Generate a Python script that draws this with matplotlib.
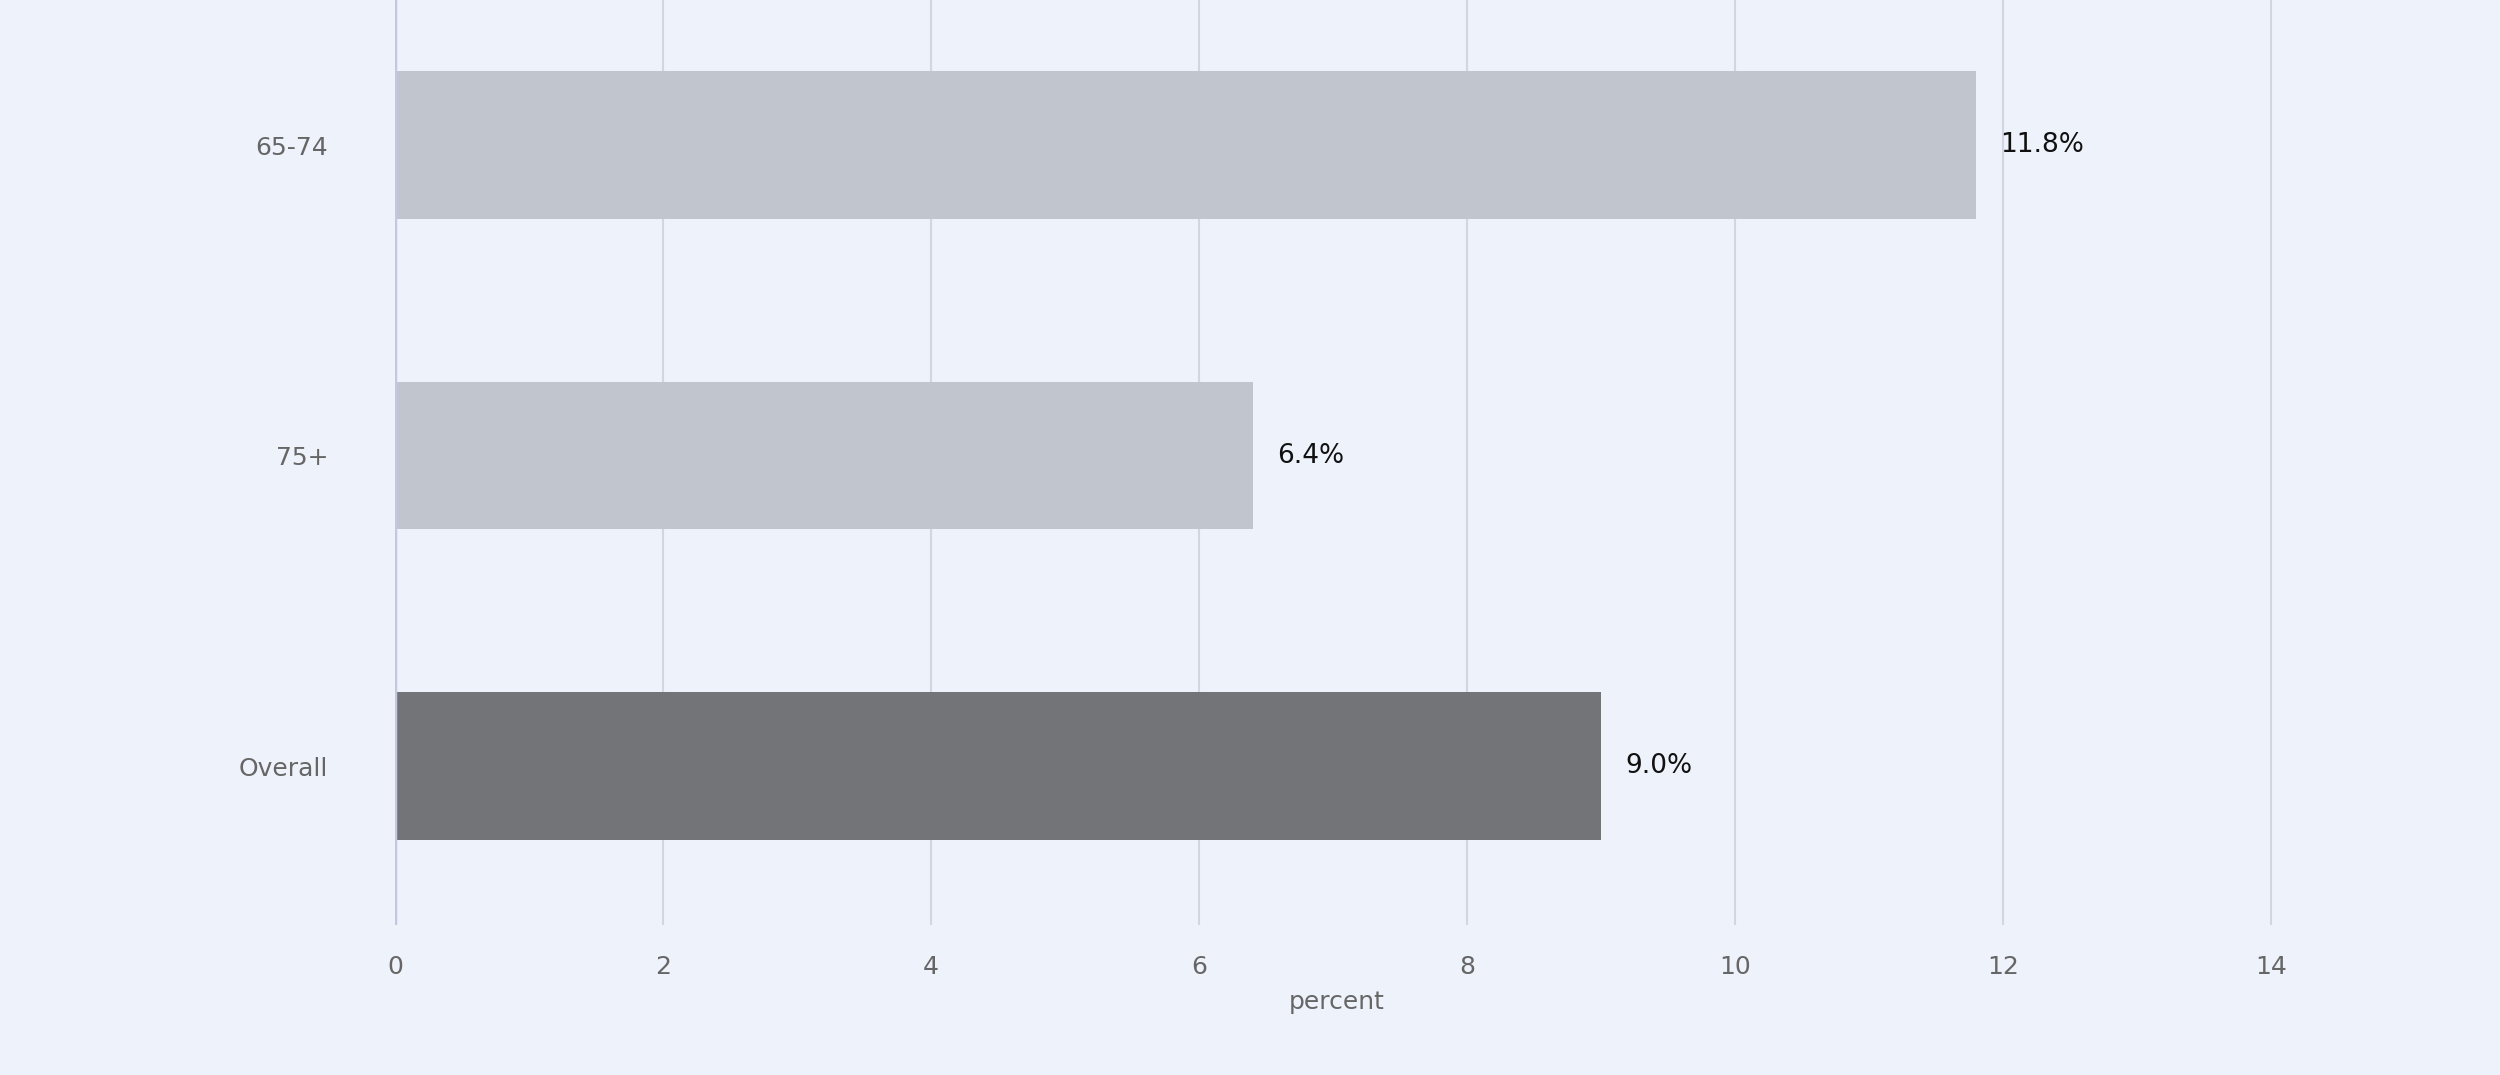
import matplotlib.pyplot as plt

categories = ["65-74", "75+", "Overall"]
values = [11.8, 6.4, 9.0]
bar_colors = ["#c1c5ce", "#c1c5ce", "#737478"]
xticks = [0, 2, 4, 6, 8, 10, 12, 14]

fig = plt.figure(figsize=(25, 10.75), dpi=100)
fig.patch.set_facecolor("#eef2fb")
# inner panel as a background axes
bg = fig.add_axes([0.0753, 0, 0.8497, 1], zorder=0)
bg.set_facecolor("#e8ecf7")
bg.axis("off")
bg.patch.set_visible(True)

ax = fig.add_axes([0.158, 0.14, 0.753, 0.86], zorder=1)
ax.set_facecolor("none")
pos = list(range(len(categories)))
ax.barh(pos, values, height=0.475, color=bar_colors, zorder=3)
for p, v in zip(pos, values):
    ax.text(v + 0.18, p, f"{v:.1f}%", va="center", ha="left", fontsize=19, color="#111111")

ax.set_xlim(0, 14.05)
ax.set_ylim(2.51, -0.467)
ax.set_xticks(xticks)
ax.set_yticks(pos)
ax.set_yticklabels(categories)
ax.grid(axis="x", color="#d3d6e2", linewidth=1.5, zorder=0)
ax.set_axisbelow(True)
for s in ax.spines.values():
    s.set_visible(False)
ax.axvline(0, color="#c5c6e0", linewidth=2.5, zorder=4)
ax.tick_params(axis="both", length=0, labelsize=18, labelcolor="#666666")
ax.tick_params(axis="x", pad=22)
ax.tick_params(axis="y", pad=48)
ax.set_xlabel("percent", fontsize=18, color="#666666", labelpad=8)

fig.savefig("out.png", dpi=100, facecolor=fig.get_facecolor())
